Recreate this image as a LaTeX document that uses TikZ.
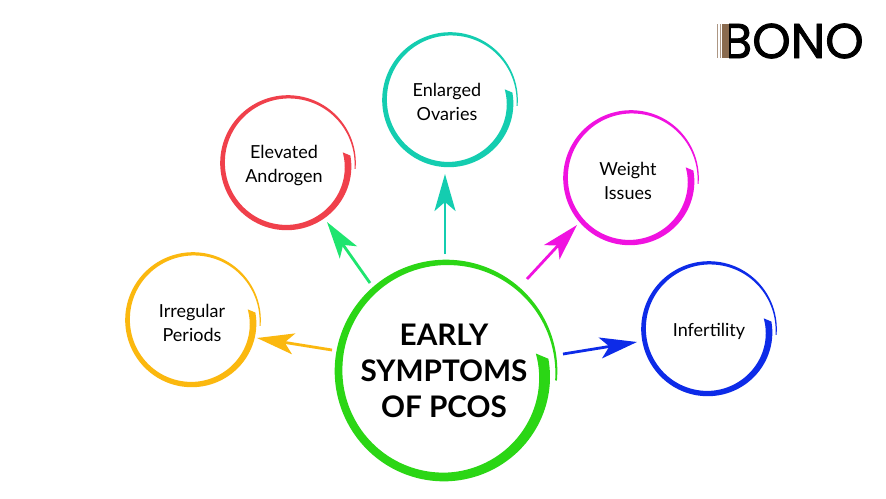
\documentclass[tikz,border=0pt]{standalone}
\usepackage{fontspec}
\setmainfont{Lato}
\newfontfamily\logofont[FakeBold=1.6]{Poppins}
\usetikzlibrary{arrows.meta}
\definecolor{cgreen}{HTML}{2BD615}
\definecolor{cteal}{HTML}{14CDB0}
\definecolor{cred}{HTML}{F0404B}
\definecolor{corange}{HTML}{FBB80F}
\definecolor{cmagenta}{HTML}{F012E0}
\definecolor{cblue}{HTML}{0D2BE8}
\definecolor{carrgreen}{HTML}{1FE56F}
\definecolor{cbrown}{HTML}{8A6B4F}
\tikzset{
  declare function={
    bang(\t)=-5+372*\t;
    bout(\t)=1.012-0.075*pow(max(0,(\t-0.6)/0.4),2);
    bwid(\t)=(\t<0.25)*(0.016+0.13*\t)+(\t>=0.25)*(\t<0.5)*(0.048+0.09*(\t-0.25))+(\t>=0.5)*(\t<0.75)*(0.07+0.04*(\t-0.5))+(\t>=0.75)*(0.08+0.1*(\t-0.75));
  },
  smalltext/.style={font=\fontsize{18}{24}\selectfont,align=center,text=black,inner sep=0pt},
  bigtext/.style={font=\fontsize{29.7}{36}\selectfont\bfseries,align=center,text=black,inner sep=0pt},
  arr/.style={line width=2.8pt,-{Stealth[length=37pt,width=21pt,inset=9pt]}},
}
\newcommand{\brushring}[4]{%
  \fill[#4] plot[domain=0:1,samples=160,smooth,variable=\t]
      ({#1+#3*bout(\t)*cos(bang(\t))},{#2-#3*bout(\t)*sin(bang(\t))})
    -- plot[domain=1:0,samples=160,smooth,variable=\t]
      ({#1+#3*(bout(\t)-bwid(\t))*cos(bang(\t)+4*pow(\t,8))},{#2-#3*(bout(\t)-bwid(\t))*sin(bang(\t)+4*pow(\t,8))})
    -- cycle;}
\begin{document}
\begin{tikzpicture}[x=1pt,y=-1pt]
\useasboundingbox (0,0) rectangle (886,498);
\fill[white] (0,0) rectangle (886,498);
% rings
\brushring{446}{371}{110}{cgreen}
\brushring{193}{320}{67}{corange}
\brushring{288}{163}{67}{cred}
\brushring{450}{100}{67}{cteal}
\brushring{631}{178}{67}{cmagenta}
\brushring{709}{329}{67}{cblue}
% labels
\node[bigtext] (main) at (444,371) {EARLY\\SYMPTOMS\\OF PCOS};
\node[smalltext] (irregular) at (192,323) {Irregular\\Periods};
\node[smalltext] (elevated) at (284,166) {Elevated\\Androgen};
\node[smalltext] (ovaries) at (447,102) {Enlarged\\Ovaries};
\node[smalltext] (weight) at (628,181) {Weight\\Issues};
\node[smalltext] (infertility) at (709,331) {Infertility};
% connector ends
\coordinate (mA) at (332,350); \coordinate (iA) at (257,338);
\coordinate (mB) at (370,283); \coordinate (eB) at (327,222);
\coordinate (mC) at (445,254); \coordinate (oC) at (445,174);
\coordinate (mD) at (527,279); \coordinate (wD) at (577,225);
\coordinate (mE) at (563,354); \coordinate (fE) at (637,342);
\draw[arr,draw=corange,fill=corange] (mA) -- (iA);
\draw[arr,draw=carrgreen,fill=carrgreen] (mB) -- (eB);
\draw[arr,draw=cteal,fill=cteal] (mC) -- (oC);
\draw[arr,draw=cmagenta,fill=cmagenta] (mD) -- (wD);
\draw[arr,draw=cblue,fill=cblue] (mE) -- (fE);
% logo
\node[anchor=west,inner sep=0pt,font=\logofont\fontsize{49}{49}\selectfont] (logo) at (722,41) {BONO};
\fill[white] (716,20) rectangle (729,62);
\fill[cbrown!70] (717,24) rectangle (718.4,58);
\fill[cbrown!70] (719.6,24) rectangle (721,58);
\fill[cbrown] (722,24) rectangle (728.5,58);
\end{tikzpicture}
\end{document}
